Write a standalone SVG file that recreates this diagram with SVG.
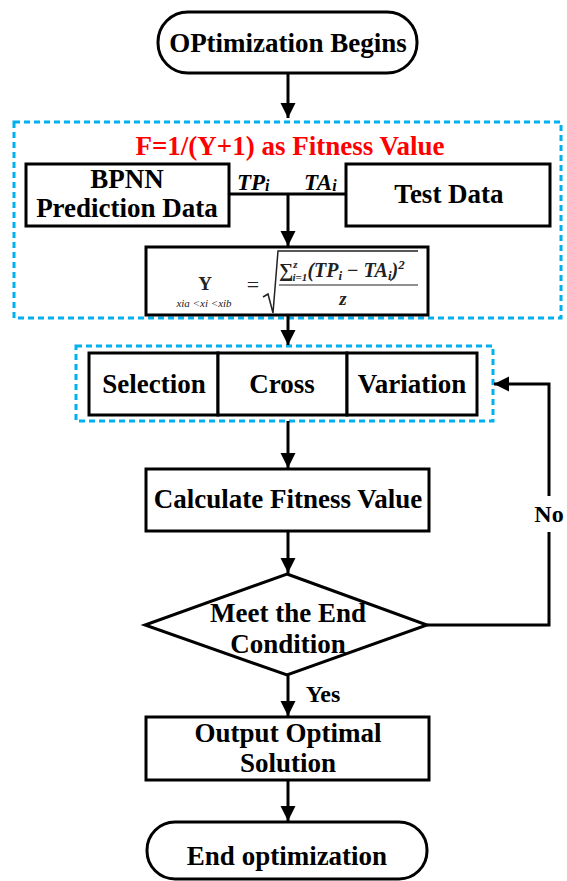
<svg xmlns="http://www.w3.org/2000/svg" width="567" height="881" viewBox="0 0 567 881">
<defs>
<style>
.t{font-family:"Liberation Serif","Times New Roman",serif;font-weight:bold;font-size:27px;fill:#000;text-anchor:middle}
.lbl{font-family:"Liberation Serif","Times New Roman",serif;font-weight:bold;font-size:24px;fill:#000;text-anchor:middle}
.box{fill:#fff;stroke:#000;stroke-width:3}
.dash{fill:none;stroke:#00b0f0;stroke-width:3;stroke-dasharray:6 4}
.ln{fill:none;stroke:#000;stroke-width:3}
.m{font-family:"Liberation Serif","Times New Roman",serif;fill:#222}
</style>
<marker id="ah" viewBox="0 0 10 10" refX="10" refY="5" markerWidth="5" markerHeight="5.5" orient="auto" markerUnits="strokeWidth">
<path d="M0,0 L10,5 L0,10 Z" fill="#000"/>
</marker>
</defs>
<rect width="567" height="881" fill="#fff"/>

<g id="groups">
<rect class="dash" x="14" y="122" width="547" height="196"/>
<rect class="dash" x="76" y="346" width="417" height="75"/>
</g>

<g id="connectors">
<line class="ln" x1="288" y1="74" x2="288" y2="118" marker-end="url(#ah)"/>
<line class="ln" x1="229" y1="194" x2="346" y2="194"/>
<line class="ln" x1="288" y1="194" x2="288" y2="246" marker-end="url(#ah)"/>
<line class="ln" x1="288" y1="315" x2="288" y2="345" marker-end="url(#ah)"/>
<line class="ln" x1="288" y1="421" x2="288" y2="468" marker-end="url(#ah)"/>
<line class="ln" x1="288" y1="531" x2="288" y2="573" marker-end="url(#ah)"/>
<line class="ln" x1="288" y1="675" x2="288" y2="716" marker-end="url(#ah)"/>
<line class="ln" x1="288" y1="780" x2="288" y2="821" marker-end="url(#ah)"/>
<polyline class="ln" points="427,625 549,625 549,384 494,384" marker-end="url(#ah)"/>
<rect x="532" y="496" width="34" height="36" fill="#fff"/>
<text class="lbl" x="549" y="522">No</text>
<text class="lbl" x="323" y="702">Yes</text>
<text class="m" x="237" y="190" font-size="23" font-weight="bold" font-style="italic" style="fill:#000">TP<tspan font-size="16" dy="1">i</tspan></text>
<text class="m" x="304" y="190" font-size="23" font-weight="bold" font-style="italic" style="fill:#000">TA<tspan font-size="16" dy="1">i</tspan></text>
</g>

<g id="start">
<rect class="box" x="158" y="12" width="259" height="61" rx="30" ry="30"/>
<text class="t" x="288" y="52">OPtimization Begins</text>
</g>

<g id="fitness-title">
<text class="t" x="290" y="155" style="fill:#ff0000">F=1/(Y+1) as Fitness Value</text>
</g>

<g id="bpnn">
<rect class="box" x="26" y="164" width="203" height="62"/>
<text class="t" x="127" y="188">BPNN</text>
<text class="t" x="127" y="217">Prediction Data</text>
</g>

<g id="test-data">
<rect class="box" x="346" y="164" width="204" height="62"/>
<text class="t" x="449" y="203">Test Data</text>
</g>

<g id="formula">
<rect class="box" x="146" y="247" width="282" height="68"/>
<text class="m" x="205" y="290" font-size="19" font-weight="bold" text-anchor="middle">Y</text>
<text class="m" x="204" y="307" font-size="11" font-style="italic" text-anchor="middle">xia &lt;xi &lt;xib</text>
<text class="m" x="253" y="292" font-size="22" text-anchor="middle">=</text>
<path d="M263,297 L268,294 L273,313 L278,251 L418,251" fill="none" stroke="#222" stroke-width="1.5"/>
<text class="m" x="279" y="277" font-size="20" font-weight="bold" font-style="italic">∑<tspan font-size="11" dy="-9">z</tspan><tspan font-size="11" dx="-5" dy="13">i=1</tspan><tspan font-size="20" dy="-4">(TP</tspan><tspan font-size="13" dy="3">i</tspan><tspan font-size="20" dy="-3" font-style="normal"> − </tspan><tspan font-size="20">TA</tspan><tspan font-size="13" dy="3">i</tspan><tspan font-size="20" dy="-3">)</tspan><tspan font-size="13" dy="-8">2</tspan></text>
<line x1="279" y1="285" x2="418" y2="285" stroke="#222" stroke-width="1.2"/>
<text class="m" x="343" y="305" font-size="19" font-weight="bold" font-style="italic" text-anchor="middle">z</text>
</g>

<g id="selection">
<rect class="box" x="89" y="353" width="129" height="62"/>
<text class="t" x="154" y="393">Selection</text>
</g>
<g id="cross">
<rect class="box" x="218" y="353" width="129" height="62"/>
<text class="t" x="282" y="393">Cross</text>
</g>
<g id="variation">
<rect class="box" x="347" y="353" width="130" height="62"/>
<text class="t" x="412" y="393">Variation</text>
</g>

<g id="calculate">
<rect class="box" x="146" y="469" width="283" height="62"/>
<text class="t" x="288" y="508">Calculate Fitness Value</text>
</g>

<g id="condition">
<polygon class="box" points="287,574 427,625 287,675 145,625"/>
<text class="t" x="288" y="622">Meet the End</text>
<text class="t" x="288" y="653">Condition</text>
</g>

<g id="output">
<rect class="box" x="146" y="717" width="283" height="63"/>
<text class="t" x="288" y="742">Output Optimal</text>
<text class="t" x="288" y="772">Solution</text>
</g>

<g id="end">
<rect class="box" x="147" y="822" width="280" height="57" rx="28" ry="28"/>
<text class="t" x="287" y="865">End optimization</text>
</g>
</svg>
